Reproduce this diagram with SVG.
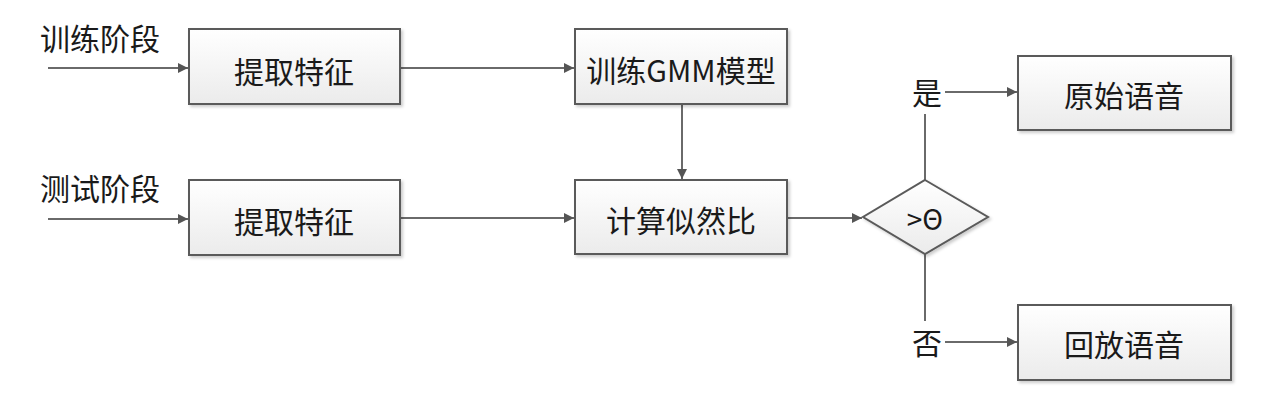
<svg xmlns="http://www.w3.org/2000/svg" width="1280" height="411" viewBox="0 0 1280 411">
<defs>
<linearGradient id="g" x1="0" y1="0" x2="0" y2="1">
<stop offset="0" stop-color="#ffffff"/>
<stop offset="1" stop-color="#ebebeb"/>
</linearGradient>
<filter id="sh" x="-10%" y="-10%" width="130%" height="130%">
<feDropShadow dx="2" dy="2" stdDeviation="1.5" flood-color="#000" flood-opacity="0.2"/>
</filter>
<marker id="ah" viewBox="0 0 10 10" refX="10" refY="5" markerWidth="10" markerHeight="10" markerUnits="userSpaceOnUse" orient="auto">
<path d="M0,0 L10,5 L0,10 z" fill="#555"/>
</marker>
</defs>
<style>
.box{fill:url(#g);stroke:#5a5a5a;stroke-width:2;filter:url(#sh)}
.t{font-family:"Noto Sans CJK SC","Liberation Sans",sans-serif;font-size:30px;fill:#1a1a1a;text-anchor:middle;dominant-baseline:central}
.l{fill:none;stroke:#6a6a6a;stroke-width:2}
.a{marker-end:url(#ah)}
</style>
<rect width="1280" height="411" fill="#fff"/>
<g id="connectors">
<line class="l a" x1="48" y1="68" x2="188" y2="68"/>
<line class="l a" x1="401" y1="68" x2="574" y2="68"/>
<line class="l a" x1="682" y1="105" x2="682" y2="179"/>
<line class="l a" x1="48" y1="219" x2="188" y2="219"/>
<line class="l a" x1="401" y1="218" x2="574" y2="218"/>
<line class="l a" x1="788" y1="218" x2="862" y2="218"/>
<line class="l" x1="925" y1="180" x2="925" y2="114"/>
<line class="l a" x1="945" y1="92" x2="1017" y2="92"/>
<line class="l" x1="925" y1="254" x2="925" y2="321"/>
<line class="l a" x1="945" y1="342" x2="1017" y2="342"/>
</g>
<g id="label-train"><text class="t" x="100" y="37">训练阶段</text></g>
<g id="label-test"><text class="t" x="100" y="187">测试阶段</text></g>
<g id="n1"><rect class="box" x="189" y="29" width="211" height="75"/><text class="t" x="294" y="70">提取特征</text></g>
<g id="n2"><rect class="box" x="575" y="29" width="212" height="75"/><text class="t" x="681" y="69">训练GMM模型</text></g>
<g id="n3"><rect class="box" x="189" y="180" width="211" height="75"/><text class="t" x="294" y="220">提取特征</text></g>
<g id="n4"><rect class="box" x="575" y="180" width="212" height="74"/><text class="t" x="681" y="219">计算似然比</text></g>
<g id="n5"><polygon class="box" points="925,180 988,217 925,254 863,217"/><text class="t" x="925" y="218" style="font-size:28px">&gt;Θ</text></g>
<g id="label-yes"><text class="t" x="927" y="91">是</text></g>
<g id="label-no"><text class="t" x="927" y="341">否</text></g>
<g id="n6"><rect class="box" x="1018" y="56" width="213" height="74"/><text class="t" x="1124" y="94">原始语音</text></g>
<g id="n7"><rect class="box" x="1018" y="305" width="213" height="75"/><text class="t" x="1124" y="343">回放语音</text></g>
</svg>
